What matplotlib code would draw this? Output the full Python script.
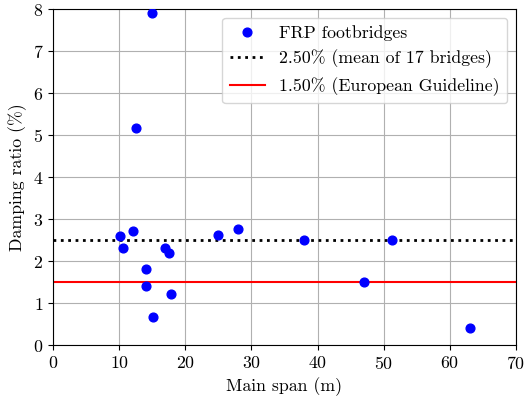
import matplotlib
matplotlib.use("Agg")
import matplotlib.pyplot as plt

plt.rcParams['font.family'] = 'serif'
plt.rcParams['font.serif'] = ['cmr10']
plt.rcParams['mathtext.fontset'] = 'cm'
plt.rcParams['axes.formatter.use_mathtext'] = True
plt.rcParams['axes.unicode_minus'] = False

span = [14.9, 12.5, 10.1, 10.6, 12.05, 14.05, 14.05, 15.05, 16.9, 17.5, 17.8,
        25.0, 27.9, 38.0, 47.0, 51.3, 63.0]
damping = [7.9, 5.17, 2.6, 2.3, 2.71, 1.8, 1.4, 0.66, 2.3, 2.2, 1.21,
           2.61, 2.77, 2.5, 1.51, 2.49, 0.41]
mean_val = 2.5
guide_val = 1.5

fs = 12.8
fig = plt.figure(figsize=(5.25, 3.97), dpi=100)
ax = fig.add_axes([53/525, 1 - 345/397, (516-53)/525, (345-9)/397])
ax.plot(span, damping, 'o', color='blue', markersize=6.3, label='FRP footbridges', zorder=3)
ax.axhline(mean_val, color='black', linestyle=':', linewidth=2,
           label='2.50% (mean of 17 bridges)')
ax.axhline(guide_val, color='red', linestyle='-', linewidth=1.5,
           label='1.50% (European Guideline)')
ax.set_xlim(0, 70)
ax.set_ylim(0, 8)
ax.set_xlabel('Main span (m)', fontsize=fs)
ax.set_ylabel('Damping ratio (%)', fontsize=fs)
ax.tick_params(labelsize=fs)
ax.grid(True, color='#b0b0b0', linewidth=0.8)
ax.set_axisbelow(True)
ax.legend(loc='upper right', fontsize=fs)
fig.savefig('out.png', dpi=100)
